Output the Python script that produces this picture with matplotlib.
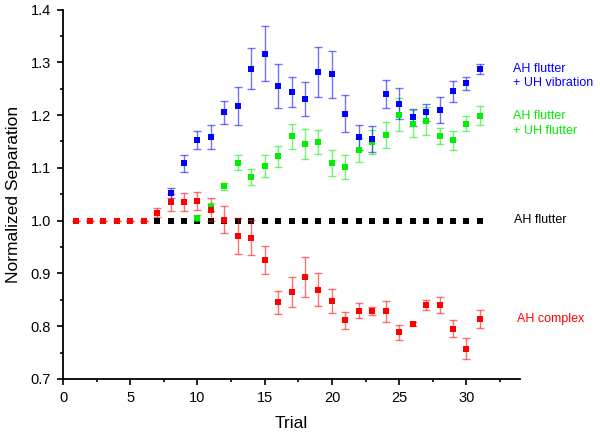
import numpy as np
import matplotlib.pyplot as plt
from matplotlib.ticker import MultipleLocator

plt.rcParams['font.family'] = ['Liberation Sans', 'DejaVu Sans']

# AH flutter + UH vibration (blue)
trial_blue = list(range(8, 32))
sep_blue = [1.052, 1.109, 1.152, 1.158, 1.205, 1.218, 1.288, 1.316, 1.255, 1.244,
            1.230, 1.282, 1.277, 1.203, 1.158, 1.155, 1.240, 1.222, 1.196, 1.205,
            1.210, 1.245, 1.260, 1.287]
err_blue = [0.010, 0.016, 0.017, 0.023, 0.022, 0.036, 0.039, 0.052, 0.042, 0.028,
            0.032, 0.047, 0.044, 0.035, 0.024, 0.024, 0.026, 0.030, 0.016, 0.017,
            0.025, 0.020, 0.013, 0.010]

# AH flutter + UH flutter (green)
trial_green = list(range(10, 32))
sep_green = [1.005, 1.026, 1.065, 1.110, 1.083, 1.103, 1.122, 1.160, 1.145, 1.149,
             1.109, 1.101, 1.134, 1.149, 1.162, 1.201, 1.184, 1.189, 1.160, 1.152,
             1.184, 1.199]
err_green = [0.005, 0.008, 0.007, 0.014, 0.015, 0.021, 0.020, 0.024, 0.028, 0.022,
             0.025, 0.023, 0.022, 0.022, 0.025, 0.032, 0.026, 0.026, 0.015, 0.018,
             0.015, 0.018]

# AH flutter (black)
trial_black = list(range(7, 32))
sep_black = [1.0] * len(trial_black)

# AH complex (red)
trial_red = list(range(1, 32))
sep_red = [1.0, 1.0, 1.0, 1.0, 1.0, 1.0, 1.015, 1.035, 1.036, 1.038,
           1.021, 1.002, 0.971, 0.968, 0.925, 0.845, 0.865, 0.893, 0.869, 0.847,
           0.811, 0.829, 0.829, 0.828, 0.788, 0.804, 0.840, 0.840, 0.795, 0.757,
           0.814]
err_red = [0, 0, 0, 0, 0, 0, 0.008, 0.016, 0.017, 0.017,
           0.021, 0.025, 0.034, 0.033, 0.026, 0.022, 0.028, 0.038, 0.031, 0.023,
           0.016, 0.014, 0.008, 0.020, 0.015, 0.003, 0.010, 0.016, 0.016, 0.020,
           0.017]

fig = plt.figure(figsize=(6, 4.37), dpi=100)
ax = fig.add_axes([0.105, 0.133, 0.762, 0.845])

def draw(x, y, err, color):
    eb = ax.errorbar(x, y, yerr=err, fmt='s', color=color, ms=4.8,
                     ecolor=color, elinewidth=1.0, capsize=3.2, capthick=1.0)
    eb[0].set_markeredgewidth(0)
    for art in eb[1] + eb[2]:
        art.set_alpha(0.55)

ax.plot(trial_black, sep_black, 's', color='black', ms=4.8, mew=0)
draw(trial_green, sep_green, err_green, '#00ee00')
draw(trial_blue, sep_blue, err_blue, '#0000ff')
draw(trial_red, sep_red, err_red, '#ff0000')

ax.set_xlim(0, 34)
ax.set_ylim(0.7, 1.4)
ax.xaxis.set_major_locator(MultipleLocator(5))
ax.xaxis.set_minor_locator(MultipleLocator(2.5))
ax.yaxis.set_major_locator(MultipleLocator(0.1))
ax.yaxis.set_minor_locator(MultipleLocator(0.05))
ax.tick_params(which='both', direction='out', labelsize=10.5, width=1.2)
ax.tick_params(which='major', length=4.5, pad=4)
ax.tick_params(which='minor', length=2.5)
for side in ['top', 'right']:
    ax.spines[side].set_visible(False)
for side in ['left', 'bottom']:
    ax.spines[side].set_linewidth(1.3)

ax.set_xlabel('Trial', fontsize=12.5, labelpad=8)
ax.set_ylabel('Normalized Separation', fontsize=12.5, labelpad=7)

ax.text(0.855, 0.826, 'AH flutter\n+ UH vibration', transform=fig.transFigure,
        color='#0000ff', fontsize=9, va='center', linespacing=1.3)
ax.text(0.855, 0.717, 'AH flutter\n+ UH flutter', transform=fig.transFigure,
        color='#00ee00', fontsize=9, va='center', linespacing=1.3)
ax.text(0.857, 0.497, 'AH flutter', transform=fig.transFigure,
        color='black', fontsize=9, va='center')
ax.text(0.862, 0.27, 'AH complex', transform=fig.transFigure,
        color='#ff0000', fontsize=9, va='center')

fig.savefig('out.png', dpi=100)
